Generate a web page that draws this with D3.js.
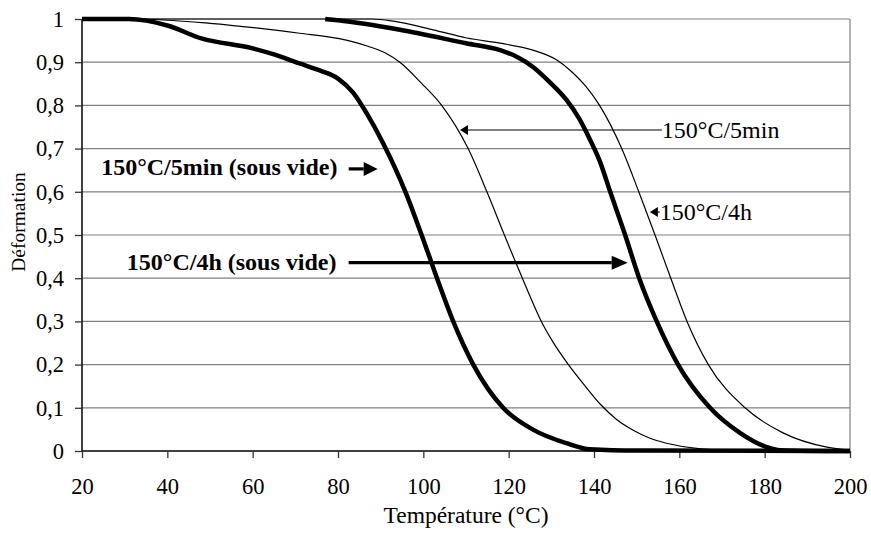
<!DOCTYPE html>
<html>
<head>
<meta charset="utf-8">
<script src="https://cdn.jsdelivr.net/npm/d3@7"></script>
<style>
  html, body { margin: 0; padding: 0; background: #fff; }
  svg { display: block; }
  text { font-family: "Liberation Serif", "Times New Roman", serif; fill: #000; }
</style>
</head>
<body>
<svg id="chart" width="871" height="533"></svg>
<script>
// ---- data ----
const xTicks = [20, 40, 60, 80, 100, 120, 140, 160, 180, 200];
const yTicks = [0, 0.1, 0.2, 0.3, 0.4, 0.5, 0.6, 0.7, 0.8, 0.9, 1];

// 150°C/5min (sous vide) — thick
const vide5minT = [20, 31, 40, 48, 60, 65, 71, 76, 80, 83.5, 86.7, 90.6, 95.8, 99.6, 103.2, 107, 111.7, 118.7, 125.8, 133.6, 139, 150, 200];
const vide5minV = [1, 1, 0.985, 0.955, 0.932, 0.918, 0.897, 0.88, 0.862, 0.83, 0.782, 0.712, 0.6, 0.5, 0.4, 0.3, 0.2, 0.1, 0.049, 0.018, 0.004, 0.001, 0];

// 150°C/5min — thin
const air5minT = [20, 32, 50, 71, 80, 87, 91, 94.5, 99.5, 104.3, 110.5, 114.9, 119, 121, 123, 125, 127.4, 130.4, 134, 137.8, 141.6, 145.3, 149.2, 153, 157, 165, 175, 200];
const air5minV = [1, 1, 0.99, 0.967, 0.955, 0.937, 0.922, 0.9, 0.852, 0.8, 0.7, 0.6, 0.5, 0.452, 0.405, 0.358, 0.305, 0.252, 0.2, 0.152, 0.107, 0.073, 0.048, 0.03, 0.018, 0.005, 0.001, 0];

// 150°C/4h (sous vide) — thick
const vide4hT = [77, 80, 94.5, 110, 118, 122, 125.7, 129.5, 133.6, 136.5, 139.1, 141.4, 143.8, 147.3, 150.6, 154.7, 159.7, 167.2, 174.2, 180.5, 183.6, 200];
const vide4hV = [1, 0.997, 0.975, 0.944, 0.928, 0.912, 0.889, 0.855, 0.812, 0.77, 0.72, 0.67, 0.6, 0.5, 0.4, 0.3, 0.2, 0.1, 0.042, 0.009, 0.002, 0];

// 150°C/4h — thin
const air4hT = [20, 88, 93, 102.3, 110.2, 118, 125.7, 131.3, 135.1, 138, 141.3, 146.5, 150.5, 154.3, 158, 161.8, 166.8, 175.4, 184.3, 194.6, 200];
const air4hV = [1, 1, 0.995, 0.975, 0.956, 0.944, 0.928, 0.905, 0.875, 0.845, 0.8, 0.7, 0.6, 0.5, 0.4, 0.3, 0.2, 0.1, 0.042, 0.009, 0.002];

const seriesNames = ["150°C/5min (sous vide)", "150°C/5min", "150°C/4h (sous vide)", "150°C/4h"];

// ---- layout ----
const svg = d3.select("#chart");
const margin = { left: 82, right: 21, top: 19, bottom: 82 };
const W = 871, H = 533;
const x = d3.scaleLinear().domain([20, 200]).range([margin.left, W - margin.right]);
const y = d3.scaleLinear().domain([0, 1]).range([H - margin.bottom, margin.top]);

// gridlines
svg.append("g").selectAll("line").data(yTicks.filter(d => d > 0)).join("line")
  .attr("x1", x(20)).attr("x2", x(200))
  .attr("y1", d => y(d)).attr("y2", d => y(d))
  .attr("stroke", "#808080").attr("stroke-width", 1.2);
// right border
svg.append("line").attr("x1", x(200)).attr("x2", x(200)).attr("y1", y(1)).attr("y2", y(0))
  .attr("stroke", "#808080").attr("stroke-width", 1.2);

// axes
const fmt = d => d === 0 ? "0" : d === 1 ? "1" : String(d).replace(".", ",");
const yAxis = svg.append("g").attr("transform", `translate(${x(20)},0)`)
  .call(d3.axisLeft(y).tickValues(yTicks).tickFormat(fmt).tickSize(7).tickPadding(11));
const xAxis = svg.append("g").attr("transform", `translate(0,${y(0)})`)
  .call(d3.axisBottom(x).tickValues(xTicks).tickFormat(d3.format("d")).tickSize(7).tickPadding(20));
[yAxis, xAxis].forEach(a => {
  a.attr("font-family", "Liberation Serif");
  a.select(".domain").attr("stroke", "#000").attr("stroke-width", 1.5);
  a.selectAll(".tick line").attr("stroke", "#333").attr("stroke-width", 1.3);
  a.selectAll("text").attr("font-family", "Liberation Serif").attr("font-size", 22.5).attr("fill", "#000");
});
xAxis.select(".domain").attr("d", `M${x(20)},0H${x(200)}`);
yAxis.select(".domain").attr("d", `M0,${y(0)}V${y(1)}`);

// axis titles
svg.append("text").attr("x", (x(20) + x(200)) / 2).attr("y", 523)
  .attr("text-anchor", "middle").attr("font-size", 23.5).text("Température (°C)");
svg.append("text").attr("transform", `translate(25,${(y(0) + y(1)) / 2 - 13}) rotate(-90)`)
  .attr("text-anchor", "middle").attr("font-size", 19.5).text("Déformation");

// curves
const line = d3.line().x(d => x(d[0])).y(d => y(d[1])).curve(d3.curveMonotoneX);
const series = [
  { T: vide5minT, V: vide5minV, w: 4.5 },
  { T: air5minT, V: air5minV, w: 1.2 },
  { T: vide4hT, V: vide4hV, w: 4.5 },
  { T: air4hT, V: air4hV, w: 1.2 }
];
series.forEach(s => {
  svg.append("path").datum(d3.zip(s.T, s.V)).attr("d", line)
    .attr("fill", "none").attr("stroke", "#000").attr("stroke-width", s.w)
    .attr("stroke-linejoin", "round");
});

// annotations (anchors in data units)
function arrow(x1, y1, x2, y2, lw, hl, hw) {
  const dir = Math.sign(x2 - x1);
  const bx = x2 - dir * hl;
  svg.append("line").attr("x1", x1).attr("y1", y1).attr("x2", bx).attr("y2", y2)
    .attr("stroke", "#000").attr("stroke-width", lw);
  svg.append("path").attr("d", `M${x2},${y2}L${bx},${y2 - hw}L${bx},${y2 + hw}Z`).attr("fill", "#000");
}

// 150°C/5min (sous vide)
svg.append("text").attr("x", x(24.5)).attr("y", y(0.639)).attr("font-size", 24).attr("font-weight", "bold")
  .text(seriesNames[0]);
arrow(x(82.5), y(0.653), x(89.3), y(0.653), 3.2, 14, 7);

// 150°C/4h (sous vide)
svg.append("text").attr("x", x(30.5)).attr("y", y(0.419)).attr("font-size", 24).attr("font-weight", "bold")
  .text(seriesNames[2]);
arrow(x(82.5), y(0.436), x(147.9), y(0.436), 3.2, 16, 7);

// 150°C/5min
arrow(x(155.9), y(0.743), x(108.6), y(0.743), 1.2, 8, 5);
svg.append("text").attr("x", x(155.9)).attr("y", y(0.7245)).attr("font-size", 24).text(seriesNames[1]);

// 150°C/4h
arrow(x(155.4), y(0.553), x(153.1), y(0.553), 1.2, 8, 5);
svg.append("text").attr("x", x(155.4)).attr("y", y(0.535)).attr("font-size", 24).text(seriesNames[3]);
</script>
</body>
</html>
